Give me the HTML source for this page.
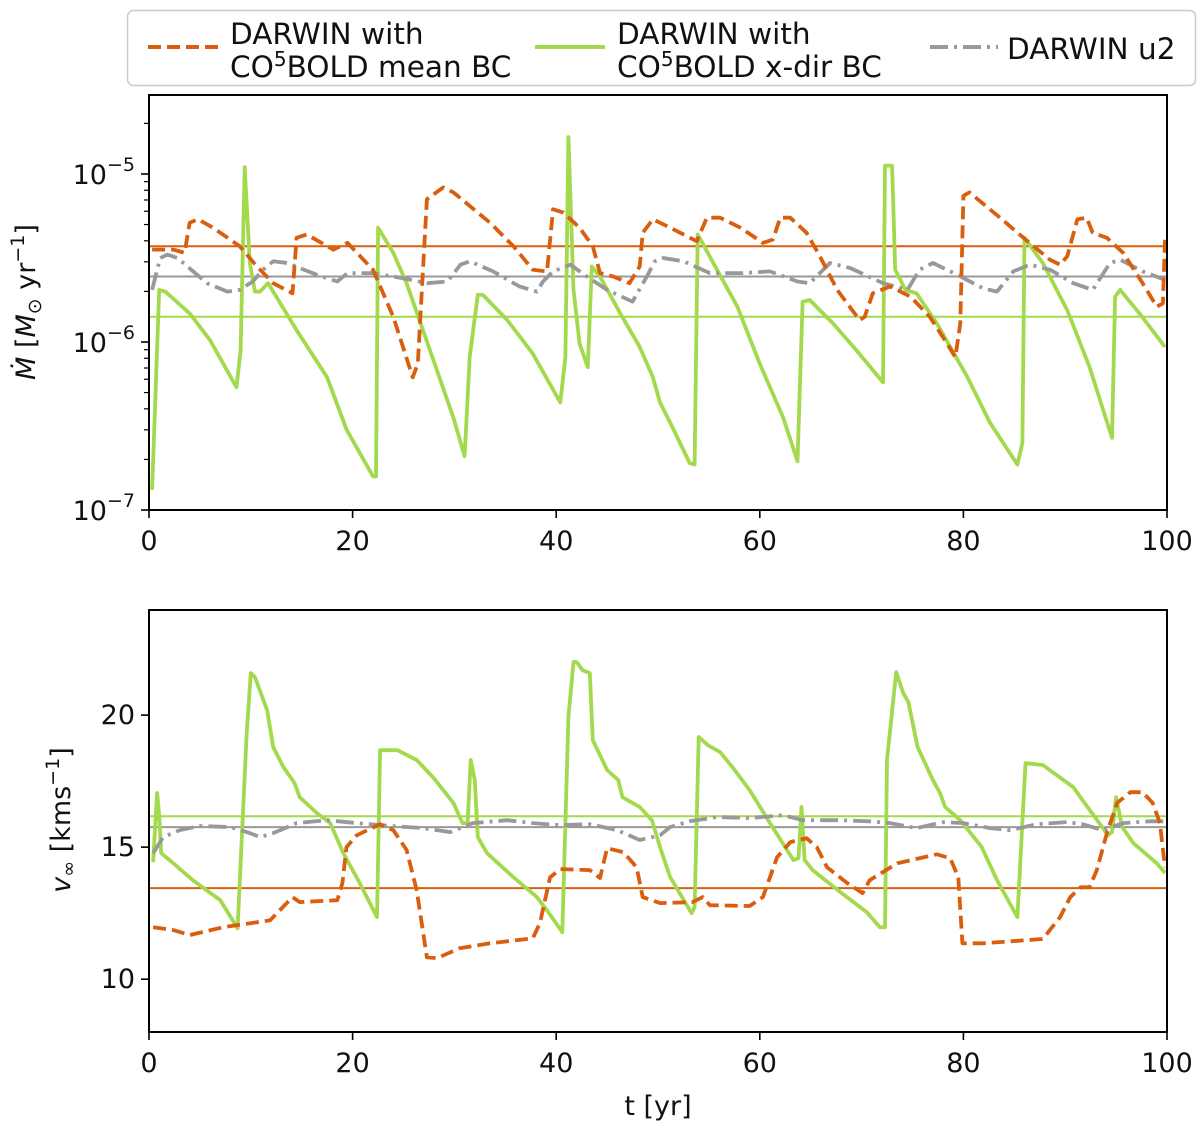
<!DOCTYPE html>
<html><head><meta charset="utf-8"><style>
html,body{margin:0;padding:0;background:#fff;}
svg{display:block;font-family:"DejaVu Sans","Liberation Sans",sans-serif;}
</style></head><body>
<svg id="fig" width="1200" height="1127" viewBox="0 0 1200 1127" xmlns="http://www.w3.org/2000/svg">
<g id="legend">
<rect x="127.5" y="10.5" width="1068" height="75" rx="6" fill="#fff" stroke="#ccc" stroke-width="1.5"/>
<g>
<line x1="148" y1="47" x2="218" y2="47" stroke="#d95f0e" stroke-width="4" stroke-dasharray="13,6"/>
<text x="230" y="44" font-size="29.5" fill="#111">DARWIN with</text>
<text x="230" y="77" font-size="29.5" fill="#111">CO<tspan font-size="20" dy="-11">5</tspan><tspan dy="11">BOLD mean BC</tspan></text>
</g>
<g>
<line x1="535" y1="47" x2="605" y2="47" stroke="#a3d94d" stroke-width="4"/>
<text x="617" y="44" font-size="29.5" fill="#111">DARWIN with</text>
<text x="617" y="77" font-size="29.5" fill="#111">CO<tspan font-size="20" dy="-11">5</tspan><tspan dy="11">BOLD x-dir BC</tspan></text>
</g>
<g>
<line x1="930" y1="47" x2="998" y2="47" stroke="#999" stroke-width="4" stroke-dasharray="18,6,3,6"/>
<text x="1007" y="59" font-size="29.5" fill="#111">DARWIN u2</text>
</g>
</g>
<g id="topPanel"></g>
<g id="botPanel"></g>
</svg>
<script>
// ---- top panel data (t in yr, log10 Mdot) ----
const gT = [0.3,1.0,1.6,4.0,6.0,8.6,9.0,9.4,9.9,10.4,10.9,11.7,14.5,17.5,19.4,22.0,22.3,22.5,24.0,25.3,27.6,29.9,31.0,31.5,31.8,32.3,32.8,35.2,37.7,40.4,40.9,41.2,41.7,42.3,43.1,43.5,44.3,46.3,48.2,49.5,50.2,51.2,53.1,53.6,53.9,55.8,57.8,60.0,62.3,63.7,64.2,64.9,67.2,69.5,72.1,72.3,73.0,73.3,74.3,75.4,77.4,80.4,82.6,85.3,85.8,86.0,87.8,90.2,92.4,94.6,94.9,95.4,97.3,99.8];
const gLogM = [-6.88,-5.69,-5.70,-5.83,-5.99,-6.27,-6.05,-4.96,-5.53,-5.70,-5.70,-5.65,-5.93,-6.21,-6.52,-6.80,-6.80,-5.32,-5.47,-5.65,-6.05,-6.45,-6.68,-6.09,-5.95,-5.72,-5.72,-5.87,-6.07,-6.36,-6.09,-4.78,-5.69,-6.01,-6.15,-5.55,-5.61,-5.83,-6.03,-6.21,-6.36,-6.48,-6.72,-6.73,-5.36,-5.57,-5.79,-6.13,-6.45,-6.71,-5.76,-5.75,-5.89,-6.05,-6.24,-4.95,-4.95,-5.57,-5.69,-5.71,-5.89,-6.21,-6.48,-6.73,-6.60,-5.38,-5.53,-5.81,-6.15,-6.57,-5.73,-5.69,-5.83,-6.03];
const oT = [0.3,2.4,3.5,4.0,4.8,6.3,8.9,10.6,12.2,14.1,14.5,15.5,18.1,19.5,22.0,24.0,25.9,26.4,27.3,28.9,29.9,33.5,35.8,37.7,39.1,39.7,40.7,42.3,43.6,44.3,45.6,47.2,48.2,48.5,49.5,51.2,53.8,54.8,56.1,58.1,60.3,61.3,62.0,63.0,64.6,65.9,67.6,69.8,70.3,71.1,72.8,74.8,76.7,78.4,79.2,79.7,80.0,80.6,83.6,85.9,88.5,89.5,90.2,91.2,92.1,92.7,94.1,95.7,97.6,99.0,99.6,99.8];
const oLogM = [-5.45,-5.45,-5.47,-5.29,-5.27,-5.32,-5.43,-5.55,-5.65,-5.71,-5.38,-5.36,-5.45,-5.41,-5.57,-5.85,-6.21,-6.13,-5.15,-5.08,-5.11,-5.29,-5.43,-5.57,-5.58,-5.21,-5.23,-5.32,-5.43,-5.59,-5.61,-5.65,-5.55,-5.35,-5.27,-5.32,-5.40,-5.26,-5.26,-5.32,-5.41,-5.39,-5.26,-5.26,-5.35,-5.49,-5.69,-5.87,-5.85,-5.71,-5.67,-5.73,-5.85,-6.01,-6.09,-5.89,-5.13,-5.11,-5.26,-5.38,-5.51,-5.54,-5.49,-5.27,-5.26,-5.35,-5.38,-5.47,-5.65,-5.79,-5.77,-5.39];
const uT = [0.3,1.1,1.8,2.8,5.7,7.7,8.9,10.2,11.2,12.2,13.6,14.8,16.5,18.5,19.5,22.0,24.9,27.3,29.3,30.6,31.5,33.8,36.4,38.1,38.7,39.7,41.4,43.0,45.0,47.5,48.9,49.7,50.5,52.5,55.1,58.3,61.0,63.7,64.9,66.9,68.9,72.1,74.5,75.7,77.0,79.4,81.9,83.3,84.9,86.5,88.5,90.8,92.7,94.4,95.4,97.6,99.8];
const uLogM = [-5.69,-5.50,-5.48,-5.50,-5.65,-5.70,-5.69,-5.64,-5.57,-5.52,-5.53,-5.56,-5.60,-5.64,-5.59,-5.59,-5.62,-5.65,-5.64,-5.54,-5.52,-5.58,-5.67,-5.70,-5.64,-5.58,-5.54,-5.61,-5.69,-5.76,-5.61,-5.52,-5.50,-5.52,-5.59,-5.59,-5.58,-5.64,-5.65,-5.53,-5.56,-5.65,-5.69,-5.57,-5.53,-5.60,-5.68,-5.70,-5.58,-5.54,-5.57,-5.65,-5.69,-5.53,-5.51,-5.58,-5.63];
const meanLogM = [-5.43, -5.85, -5.61]; // mean BC, x-dir BC, u2

// ---- bottom panel data (t in yr, v_inf km/s) ----
const gT2 = [0.4,0.8,1.0,1.2,2.4,4.3,7.0,8.7,9.6,10.0,10.4,11.6,12.2,13.2,14.3,14.8,16.5,17.8,19.1,20.7,22.4,22.7,24.4,26.3,27.9,29.9,30.8,31.3,31.6,32.0,32.3,33.2,35.8,38.1,39.1,40.6,41.2,41.7,42.0,42.6,43.3,43.6,45.0,46.1,46.5,48.2,49.4,50.2,51.2,53.3,53.6,54.0,54.9,56.1,57.4,59.0,61.0,63.3,63.8,64.1,64.4,65.2,67.9,70.5,71.8,72.3,72.5,73.4,74.1,74.6,75.5,77.0,77.7,78.2,79.7,81.8,83.3,85.3,86.1,87.8,90.8,91.7,93.7,94.2,94.6,95.0,95.6,96.7,99.0,99.8];
const gV = [14.43,17.05,16.21,14.77,14.39,13.75,12.99,11.93,19.32,21.59,21.44,20.19,18.79,18.03,17.42,16.89,16.29,15.91,14.77,13.64,12.35,18.67,18.67,18.30,17.65,16.67,15.91,15.91,18.30,17.54,15.38,14.77,13.86,13.11,12.61,11.78,19.92,22.01,22.01,21.70,21.59,19.05,17.92,17.54,16.89,16.52,16.02,15.00,13.86,12.50,12.73,19.17,18.86,18.60,17.99,17.16,15.91,14.51,14.58,16.52,14.51,14.13,13.30,12.54,11.97,11.97,18.30,21.63,20.83,20.49,18.79,17.54,17.05,16.52,16.02,15.00,13.75,12.35,18.18,18.11,17.27,16.78,15.72,15.45,15.57,16.89,15.76,15.15,14.39,14.02];
const oT2 = [0.4,2.4,4.0,7.3,11.9,14.1,14.8,18.5,19.0,19.4,20.4,22.7,24.0,25.3,26.3,27.3,28.3,30.5,33.5,37.7,38.4,39.4,40.4,43.3,44.3,45.0,46.6,47.9,48.5,50.2,53.4,54.4,55.1,59.0,60.3,61.7,63.0,64.6,65.6,66.6,68.6,70.1,70.8,73.5,77.4,78.7,79.5,79.9,81.9,87.8,89.5,90.5,91.5,92.4,93.1,94.1,95.1,96.4,97.6,98.6,99.3,99.8];
const oV = [11.97,11.86,11.67,11.97,12.23,13.11,12.92,12.99,13.64,15.00,15.45,15.87,15.64,14.89,13.37,10.83,10.80,11.17,11.36,11.55,12.12,13.86,14.17,14.13,13.83,14.96,14.81,14.24,13.11,12.88,12.92,13.11,12.80,12.77,13.11,14.62,15.19,15.34,15.00,14.24,13.64,13.26,13.75,14.39,14.73,14.58,13.86,11.36,11.36,11.52,12.35,13.11,13.48,13.48,14.13,15.53,16.67,17.08,17.08,16.67,15.91,14.24];
const uT2 = [0.4,1.4,3.0,5.0,8.0,9.9,10.9,12.2,14.5,17.5,20.4,23.7,26.9,29.6,31.8,35.2,37.7,40.4,43.3,46.0,48.2,50.2,51.2,53.1,55.8,59.0,62.3,64.2,67.6,70.8,72.8,75.4,78.0,80.0,82.6,84.6,87.2,90.2,91.7,93.7,95.7,98.3,99.8];
const uV = [14.77,15.38,15.64,15.80,15.76,15.53,15.38,15.53,15.91,16.02,15.91,15.80,15.72,15.57,15.91,16.02,15.91,15.83,15.87,15.64,15.27,15.45,15.76,15.98,16.14,16.10,16.21,16.02,16.02,15.98,15.91,15.72,15.95,15.91,15.72,15.64,15.87,15.95,15.87,15.64,15.91,15.98,15.98];
const meanV = [13.45, 16.17, 15.76];

const xTicks = [0,20,40,60,80,100];
const vTicks = [10,15,20];
const logTicks = [-5,-6,-7];

const NS="http://www.w3.org/2000/svg";
const ORANGE="#d95f0e", GREEN="#a3d94d", GRAY="#999999";
const X0=149, X1=1167;
function sx(t){return X0+(t-0)/(100-0)*(X1-X0);}
const TY0=95, TY1=510, LMIN=-7, LMAX=-4.53;
function syTop(l){return TY1-(l-LMIN)/(LMAX-LMIN)*(TY1-TY0);}
const BY0=610, BY1=1032, VMIN=8.0, VMAX=23.98;
function syBot(v){return BY1-(v-VMIN)/(VMAX-VMIN)*(BY1-BY0);}

function mk(tag, attrs, parent){const e=document.createElementNS(NS,tag);for(const k in attrs)e.setAttribute(k,attrs[k]);parent.appendChild(e);return e;}

function series(parent, ts, vs, sy, color, dash, name){
  let d="";
  for(let i=0;i<ts.length;i++){d+=(i?"L":"M")+sx(ts[i]).toFixed(1)+","+sy(vs[i]).toFixed(1);}
  const p=mk("path",{d:d,fill:"none",stroke:color,"stroke-width":3.8,"stroke-linejoin":"round"},parent);
  if(dash)p.setAttribute("stroke-dasharray",dash);
  
  
}
function hline(parent, v, sy, color, name){
  const l=mk("line",{x1:X0,x2:X1,y1:sy(v),y2:sy(v),stroke:color,"stroke-width":2},parent);
  
  
}
function frame(parent, y0, y1){
  const r=mk("rect",{x:X0,y:y0,width:X1-X0,height:y1-y0,fill:"none",stroke:"#000","stroke-width":2},parent);
  
  
}
function xAxis(parent, yb){
  for(const t of xTicks){
    mk("line",{x1:sx(t),x2:sx(t),y1:yb,y2:yb+8,stroke:"#000","stroke-width":1.6},parent);
    const tx=mk("text",{x:sx(t),y:yb+40,"font-size":27,"text-anchor":"middle",fill:"#111"},parent);
    tx.textContent=t;
    
    
  }
}

// top panel
const topG=document.getElementById("topPanel");
const clipT=mk("clipPath",{id:"ct"},topG);mk("rect",{x:X0,y:TY0,width:X1-X0,height:TY1-TY0},clipT);
const gTop=mk("g",{"clip-path":"url(#ct)"},topG);
hline(gTop, meanLogM[0], syTop, ORANGE, 'mean-line-mean-bc');
hline(gTop, meanLogM[1], syTop, GREEN, 'mean-line-xdir-bc');
hline(gTop, meanLogM[2], syTop, GRAY, 'mean-line-u2');
series(gTop, gT, gLogM, syTop, GREEN, null, 'mdot-xdir-bc');
series(gTop, uT, uLogM, syTop, GRAY, "18,6,3,6", 'mdot-u2');
series(gTop, oT, oLogM, syTop, ORANGE, "13,6", 'mdot-mean-bc');
frame(topG, TY0, TY1);
xAxis(topG, TY1);
for(const L of logTicks){
  const y=syTop(L);
  mk("line",{x1:X0-8,x2:X0,y1:y,y2:y,stroke:"#000","stroke-width":1.6},topG);
  const tx=mk("text",{x:X0-14,y:y+10,"font-size":27,"text-anchor":"end",fill:"#111"},topG);
  tx.innerHTML='10<tspan font-size="19" dy="-13">\u2212'+(-L)+'</tspan>';
  
  
}
for(let dec=-7;dec<=-5;dec++){for(let m=2;m<=9;m++){const l=dec+Math.log10(m);if(l>LMAX)continue;const y=syTop(l);mk("line",{x1:X0-5,x2:X0,y1:y,y2:y,stroke:"#000","stroke-width":1.2},topG);}}
const ylT=mk("text",{transform:"translate(35,302) rotate(-90)","font-size":27,"text-anchor":"middle",fill:"#111"},topG);
ylT.innerHTML='<tspan font-style="italic">M\u0307</tspan> [<tspan font-style="italic">M</tspan><tspan font-size="19" dy="6">\u2299</tspan><tspan dy="-6"> yr</tspan><tspan font-size="19" dy="-11">\u22121</tspan><tspan dy="11">]</tspan>';



// bottom panel
const botG=document.getElementById("botPanel");
const clipB=mk("clipPath",{id:"cb"},botG);mk("rect",{x:X0,y:BY0,width:X1-X0,height:BY1-BY0},clipB);
const gBot=mk("g",{"clip-path":"url(#cb)"},botG);
hline(gBot, meanV[0], syBot, ORANGE, 'mean-line-mean-bc');
hline(gBot, meanV[1], syBot, GREEN, 'mean-line-xdir-bc');
hline(gBot, meanV[2], syBot, GRAY, 'mean-line-u2');
series(gBot, gT2, gV, syBot, GREEN, null, 'vinf-xdir-bc');
series(gBot, uT2, uV, syBot, GRAY, "18,6,3,6", 'vinf-u2');
series(gBot, oT2, oV, syBot, ORANGE, "13,6", 'vinf-mean-bc');
frame(botG, BY0, BY1);
xAxis(botG, BY1);
for(const v of vTicks){
  const y=syBot(v);
  mk("line",{x1:X0-8,x2:X0,y1:y,y2:y,stroke:"#000","stroke-width":1.6},botG);
  const tx=mk("text",{x:X0-14,y:y+9,"font-size":27,"text-anchor":"end",fill:"#111"},botG);
  tx.textContent=v;
  
  
}
const ylB=mk("text",{transform:"translate(70,820) rotate(-90)","font-size":27,"text-anchor":"middle",fill:"#111"},botG);
ylB.innerHTML='<tspan font-style="italic">v</tspan><tspan font-size="19" dy="5">\u221e</tspan><tspan dy="-5"> [kms</tspan><tspan font-size="19" dy="-11">\u22121</tspan><tspan dy="11">]</tspan>';


const xl=mk("text",{x:(X0+X1)/2,y:1115,"font-size":27,"text-anchor":"middle",fill:"#111"},botG);
xl.textContent="t [yr]";


</script>
</body></html>
